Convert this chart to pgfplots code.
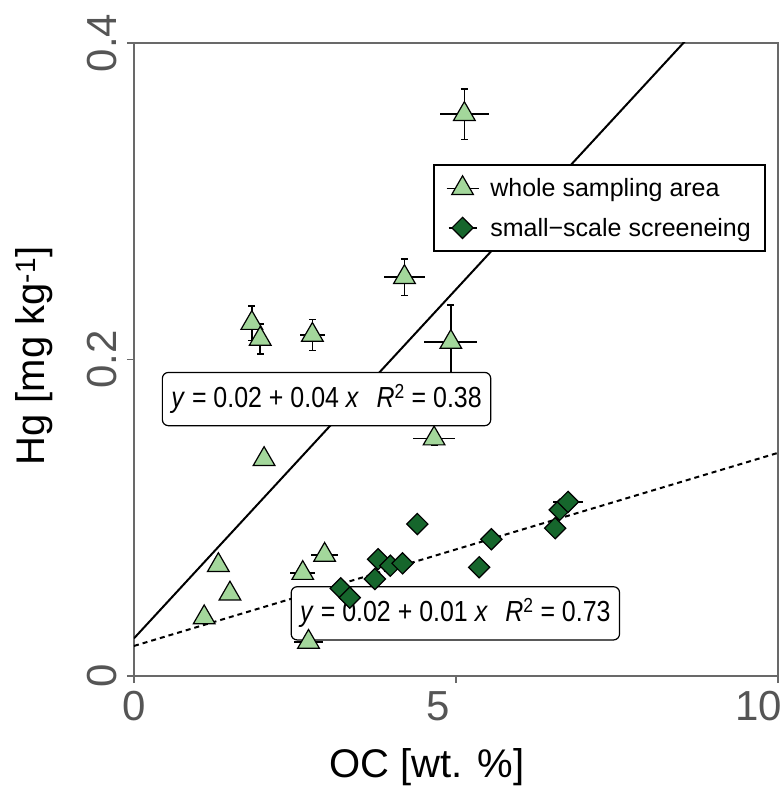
\documentclass[border=0pt]{standalone}
\usepackage{fontspec}
\setmainfont{Liberation Sans}
\newfontfamily\condfont[FakeStretch=0.86]{Liberation Sans}
\usepackage{pgfplots}
\pgfplotsset{compat=1.18}
\usepackage{pgfplotstable}
\definecolor{lightg}{RGB}{163,215,155}
\definecolor{darkg}{RGB}{22,102,44}
\definecolor{axgray}{RGB}{105,105,105}
\definecolor{tickgray}{RGB}{85,85,85}

\pgfplotsset{
  trileg/.style={legend image code/.code={
    \draw[black, line width=1.5pt] (0pt,0pt) -- (32pt,0pt);
    \draw[##1] plot coordinates {(16pt,0pt)};
  }},
  diaileg/.style={legend image code/.code={
    \draw[black, line width=1.5pt] (2pt,0pt) -- (30pt,0pt);
    \draw[##1] plot coordinates {(16pt,0pt)};
  }},
}

\pgfplotstableread{
x y ex ey
1.83 0.223 0 0.011
1.96 0.213 0 0.0095
2.77 0.2155 0.19 0.0098
4.92 0.211 0.41 0.0235
4.66 0.150 0.32 0.004
2.02 0.137 0 0
1.31 0.070 0 0
1.49 0.052 0 0
1.09 0.037 0 0
2.62 0.065 0.19 0
2.96 0.0765 0.21 0
2.71 0.0215 0.23 0
5.13 0.355 0.375 0.016
4.20 0.252 0.32 0.0116
}\wholetab

\pgfplotstableread{
x y ex
4.40 0.096 0
5.55 0.0864 0
5.36 0.0687 0
3.79 0.0738 0
3.98 0.0697 0
4.17 0.0712 0
3.74 0.0613 0
3.21 0.0554 0
3.35 0.0495 0
6.54 0.0934 0
6.61 0.105 0
6.74 0.110 0.23
}\smalltab

\begin{document}
\begin{tikzpicture}
\begin{axis}[
  at={(0pt,0pt)}, anchor=south west,
  scale only axis, width=644pt, height=633pt,
  xmin=0, xmax=10, ymin=0, ymax=0.4,
  xtick={0,5,10}, ytick={0,0.2,0.4},
  xticklabels={0,\llap{5\kern6pt},\llap{10\kern-4pt}},
  yticklabels={0,0.2,0.4},
  xtick pos=bottom, ytick pos=left,
  tick align=outside, major tick length=7pt,
  tick style={axgray, line width=1.5pt},
  axis line style={axgray, line width=1.5pt},
  ticklabel style={font=\fontsize{42}{50}\selectfont, text=tickgray, inner sep=0pt},
  xticklabel style={anchor=north},
  yticklabel style={rotate=90, anchor=south},
  xticklabel shift=8pt,
  yticklabel shift=10pt,
  xlabel={OC [wt. \%]},
  ylabel={Hg [mg kg\textsuperscript{-1}]},
  label style={font=\fontsize{40}{48}\selectfont, text=black},
  xlabel style={at={(axis description cs:0.455,-0.1600)}, anchor=base},
  ylabel style={at={(axis description cs:-0.1382,0.5055)}, anchor=base},
  legend style={at={(axis description cs:0.981,0.809)}, anchor=north east,
    draw=black, line width=1.8pt, fill=white,
    font=\fontsize{25}{30}\selectfont, inner xsep=12pt, inner ysep=11pt,
    row sep=16pt, /tikz/every odd column/.append style={column sep=9pt}},
  legend cell align=left,
]
% regression lines
\addplot[forget plot, black, line width=2pt] coordinates {(0,0.0238) (10,0.4648)};
\addplot[forget plot, black, line width=2pt, dash pattern=on 5pt off 4pt] coordinates {(0,0.019) (10,0.141)};

% x error bars (triangles)
\addplot[forget plot, only marks, mark=none,
  error bars/.cd, x dir=both, x explicit, error mark=none,
  error bar style={black, line width=1.5pt}]
  table[x=x, y=y, x error=ex] {\wholetab};
% y error bars (triangles)
\addplot[forget plot, only marks, mark=none,
  error bars/.cd, y dir=both, y explicit,
  error mark options={rotate=90, mark size=3.5pt, line width=1.8pt, black},
  error bar style={black, line width=1.5pt}]
  table[x=x, y=y, y error=ey] {\wholetab};
% x error bars (diamonds)
\addplot[forget plot, only marks, mark=none,
  error bars/.cd, x dir=both, x explicit, error mark=none,
  error bar style={black, line width=1.5pt}]
  table[x=x, y=y, x error=ex] {\smalltab};

% equation boxes
\node[draw=black, line width=1.2pt, fill=white, rounded corners=6pt,
  inner xsep=9pt, inner ysep=12pt, font=\condfont\fontsize{29}{34}\selectfont]
  at (axis cs:2.99,0.175)
  {\textit{y} = 0.02 + 0.04 \textit{x}\hspace{0.6em}\textit{R}\textsuperscript{2} = 0.38};
\node[draw=black, line width=1.2pt, fill=white, rounded corners=6pt,
  inner xsep=9pt, inner ysep=12pt, font=\condfont\fontsize{29}{34}\selectfont]
  at (axis cs:4.99,0.0396)
  {\textit{y} = 0.02 + 0.01 \textit{x}\hspace{0.6em}\textit{R}\textsuperscript{2} = 0.73};

% markers
\addplot[only marks, mark=triangle*, mark size=12.5pt,
  mark options={fill=lightg, draw=black, line width=1.2pt}, trileg]
  table[x=x, y=y] {\wholetab};
\addlegendentry{whole sampling area}

\addplot[only marks, mark=square*, mark size=7.5pt,
  mark options={rotate=45, fill=darkg, draw=black, line width=1.2pt}, diaileg]
  table[x=x, y=y] {\smalltab};
\addlegendentry{small−scale screeneing}
\end{axis}
\pgfresetboundingbox
\path (-134pt,-111pt) rectangle (650pt,676pt);
\end{tikzpicture}
\end{document}
